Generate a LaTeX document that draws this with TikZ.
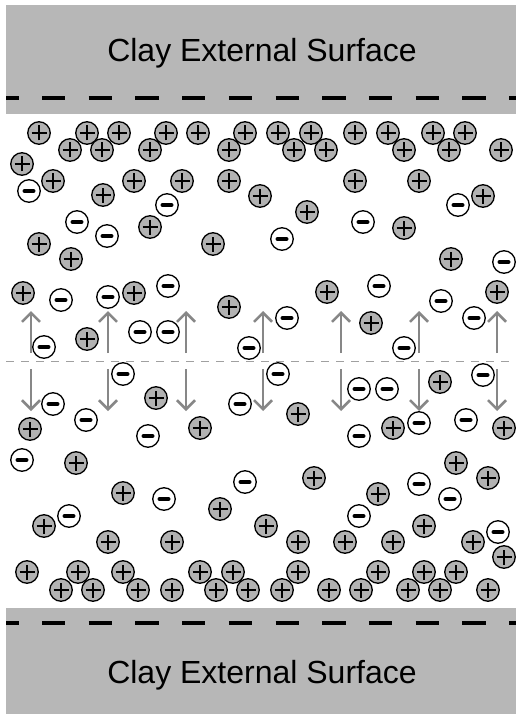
\documentclass[tikz,border=0pt]{standalone}
\usepackage{fontspec}
\setmainfont{Liberation Sans}
\usetikzlibrary{arrows.meta}
\definecolor{bandgray}{RGB}{183,183,183}
\definecolor{ionfill}{RGB}{178,178,178}
\definecolor{arrowgray}{RGB}{135,135,135}
\definecolor{midgray}{RGB}{160,160,160}
\tikzset{
 band/.style={fill=bandgray, draw=none},
 surfdash/.style={line width=4pt, dash pattern=on 23.3pt off 23.4pt, dash phase=10.7pt},
 bandlabel/.style={font=\fontsize{32}{38}\selectfont, anchor=base, inner sep=0pt},
 ion/.style={circle, draw=black, line width=1.3pt, minimum size=22.5pt, inner sep=0pt},
 cation/.style={ion, fill=ionfill, path picture={
   \draw[line width=1.2pt] ([xshift=-7.5pt]path picture bounding box.center) -- ([xshift=7.5pt]path picture bounding box.center);
   \draw[line width=1.2pt] ([yshift=-7.5pt]path picture bounding box.center) -- ([yshift=7.5pt]path picture bounding box.center);}},
 anion/.style={ion, fill=white, path picture={
   \draw[line width=4pt, line cap=round] ([xshift=-4.5pt]path picture bounding box.center) -- ([xshift=4.5pt]path picture bounding box.center);}},
 flux/.style={draw=arrowgray, line width=2.5pt, -{Straight Barb[length=9pt, width=18pt]}},
 midplane/.style={draw=midgray, line width=1pt, dash pattern=on 8pt off 7pt},
}
\begin{document}
\begin{tikzpicture}[x=1pt,y=-1pt]
\useasboundingbox (0,0) rectangle (516,714);
% clay bands
\fill[band] (6,5) rectangle (516,114);
\fill[band] (6,608) rectangle (516,714);
\coordinate (tdl) at (6,98);  \coordinate (tdr) at (516,98);
\coordinate (bdl) at (6,623); \coordinate (bdr) at (516,623);
\draw[surfdash] (tdl) -- (tdr);
\draw[surfdash] (bdl) -- (bdr);
\node[bandlabel] (toplabel) at (262,62) {Clay External Surface};
\node[bandlabel] (botlabel) at (262,683) {Clay External Surface};
% mid-plane
\coordinate (ml) at (6,361); \coordinate (mr) at (516,361);
\draw[midplane] (ml) -- (mr);
% arrows
\foreach \x [count=\i] in {31,108,186,263,341,419,497} {
  \coordinate (us\i) at (\x,353); \coordinate (ut\i) at (\x,311);
  \coordinate (ds\i) at (\x,369); \coordinate (dt\i) at (\x,411);
  \draw[flux] (us\i) -- (ut\i);
  \draw[flux] (ds\i) -- (dt\i);
}
% cations
\foreach \x/\y [count=\i] in {
 39/133,87/133,119/133,166/133,198/133,245/133,278/133,311/133,355/133,388/133,433/133,465/133,
 70/150,102/150,150/150,229/150,294/150,326/150,404/150,449/150,501/150,
 22/164,
 53/181,134/181,182/181,229/181,355/181,419/181,
 103/195,260/196,483/196,307/212,150/227,404/228,
 39/244,213/244,71/259,451/259,
 23/293,134/293,327/292,497/292,229/307,
 371/323,87/339,
 440/382,156/398,298/414,
 30/429,200/428,393/428,504/428,
 76/463,456/463,314/478,488/478,
 123/493,378/494,220/509,
 44/526,266/526,424/526,
 108/542,172/542,298/542,345/542,393/542,473/542,504/557,
 27/572,78/572,123/572,200/572,233/572,298/572,378/572,424/572,456/572,
 61/590,93/590,138/590,172/590,216/590,248/590,282/590,329/590,361/590,408/590,440/590,488/590}
 { \node[cation] (p\i) at (\x,\y) {}; }
% anions
\foreach \x/\y [count=\i] in {
 29/191,167/205,458/205,77/222,363/222,107/236,282/239,504/262,
 168/286,379/286,108/297,61/300,441/301,
 287/318,474/318,140/332,168/332,44/347,249/348,404/348,
 123/374,278/374,483/375,359/389,387/389,
 53/404,240/404,
 86/420,419/423,466/420,
 148/436,359/436,
 22/460,245/482,419/484,164/499,450/499,
 69/516,359/516,498/532}
 { \node[anion] (m\i) at (\x,\y) {}; }
\end{tikzpicture}
\end{document}
